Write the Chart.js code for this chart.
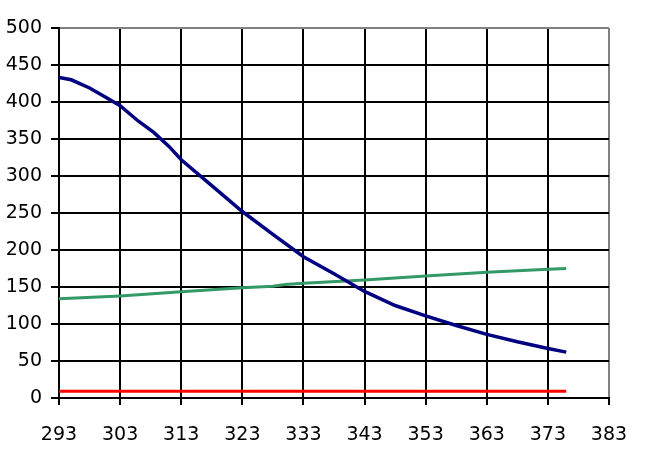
<!DOCTYPE html>
<html>
<head>
<meta charset="utf-8">
<script src="https://cdn.jsdelivr.net/npm/chart.js@4/dist/chart.umd.min.js"></script>
<style>
  html, body { margin: 0; padding: 0; background: #fff; }
  #wrap { width: 647px; height: 461px; }
</style>
</head>
<body>
<div id="wrap"><canvas id="chart_canvas" width="647" height="461"></canvas></div>
<script>
// tick labels
const X_TICKS = [293, 303, 313, 323, 333, 343, 353, 363, 373, 383];
const Y_TICKS = [0, 50, 100, 150, 200, 250, 300, 350, 400, 450, 500];

// blue series
const blue_x = [293, 295, 298, 300.5, 303, 306, 308.5, 311, 313, 318, 323, 328, 333, 338, 343, 348, 353, 358, 363, 368, 373, 376];
const blue_y = [433, 430, 419, 407, 395, 374, 359, 340, 322, 287, 252, 221, 191, 168, 144, 125, 111, 98, 86, 76, 67, 62];

// green series
const green_x = [293, 303, 313, 323, 328, 330, 333, 343, 353, 363, 373, 376];
const green_y = [134, 138, 143.5, 149, 151, 153.5, 155, 159.5, 165, 170, 174, 175];

// red series
const red_x = [293, 313, 333, 353, 376];
const red_y = [9, 9, 9, 9, 9];

function to_points(xs, ys) {
    let pts = [];
    for (let i = 0; i < xs.length; i++) {
        pts.push({x: xs[i], y: ys[i]});
    }
    return pts;
}

const FONT = {family: 'DejaVu Sans', size: 19};

let the_chart = new Chart(document.getElementById('chart_canvas'), {
    type: 'line',
    data: {
        datasets: [
            {data: to_points(blue_x, blue_y), borderColor: '#000080', borderWidth: 3.5},
            {data: to_points(green_x, green_y), borderColor: '#339966', borderWidth: 3},
            {data: to_points(red_x, red_y), borderColor: '#ff0000', borderWidth: 3}
        ]
    },
    options: {
        responsive: false,
        animation: false,
        elements: {point: {radius: 0}, line: {tension: 0}},
        layout: {padding: {top: 28, right: 38, left: 0, bottom: 0}},
        plugins: {legend: {display: false}, tooltip: {enabled: false}},
        scales: {
            x: {
                type: 'linear',
                min: 293,
                max: 383,
                afterBuildTicks: function (scale) {
                    scale.ticks = X_TICKS.map(v => ({value: v}));
                },
                afterFit: function (scale) { scale.height = 63; },
                grid: {
                    color: c => (c.tick && c.tick.value === 383) ? '#808080' : '#000',
                    tickColor: '#000',
                    lineWidth: 2,
                    tickLength: 7
                },
                border: {color: '#000', width: 2},
                ticks: {color: '#000', font: FONT, padding: 19, maxRotation: 0, autoSkip: false}
            },
            y: {
                min: 0,
                max: 500,
                afterBuildTicks: function (scale) {
                    scale.ticks = Y_TICKS.map(v => ({value: v}));
                },
                afterFit: function (scale) { scale.width = 59; },
                grid: {
                    color: c => (c.tick && c.tick.value === 500) ? '#808080' : '#000',
                    tickColor: '#000',
                    lineWidth: 2,
                    tickLength: 8
                },
                border: {color: '#000', width: 2},
                ticks: {color: '#000', font: FONT, padding: 9, autoSkip: false}
            }
        }
    }
});
</script>
</body>
</html>
